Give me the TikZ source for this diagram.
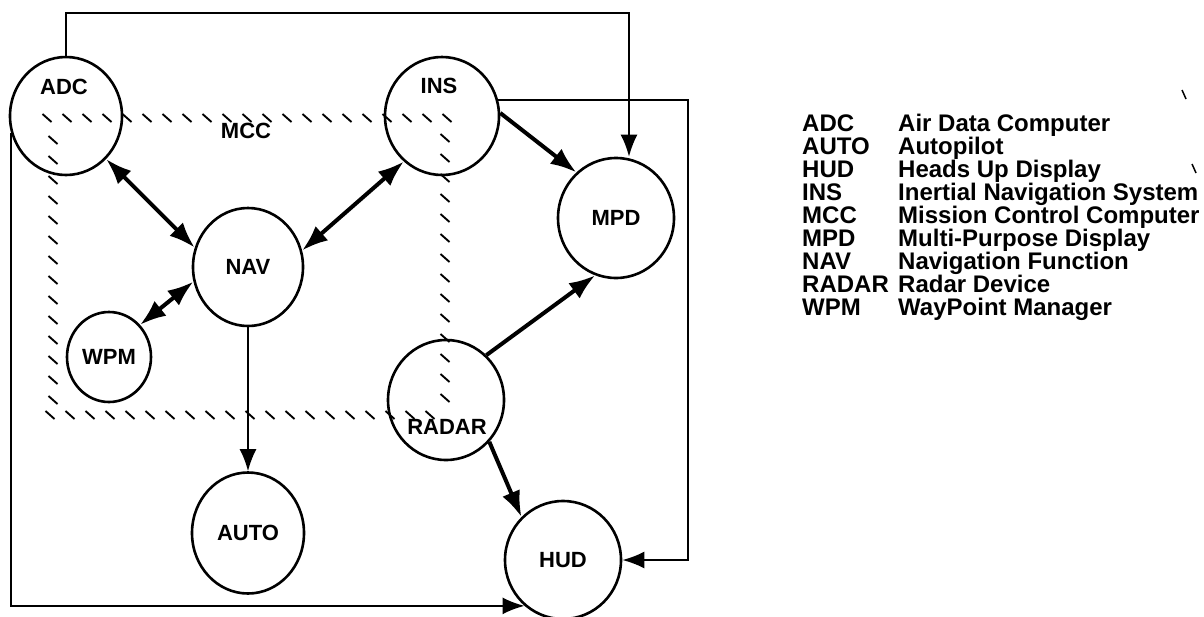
\documentclass[tikz,border=0pt]{standalone}
\usepackage{fontspec}
\setmainfont{Liberation Sans}
\usetikzlibrary{shapes.geometric,arrows.meta}
\newcommand\dglbl{\fontsize{22}{26}\selectfont\bfseries}
\newcommand\dgleg{\fontsize{24}{28}\selectfont\bfseries}
\begin{document}
\begin{tikzpicture}[x=1pt,y=-1pt,
  proc/.style={draw, ellipse, line width=2.6pt, inner sep=0pt, font=\dglbl},
  lab/.style={inner sep=0pt, font=\dglbl},
  leg/.style={inner sep=0pt, font=\dgleg, anchor=base west},
  tk/.style={line width=1.9pt},
  thin/.style={line width=1.9pt, -{Latex[length=22pt,width=17pt]}},
  thick/.style={line width=4pt, -{Latex[length=26pt,width=19pt]}},
  dbl/.style={line width=4pt, {Latex[length=26pt,width=19pt]}-{Latex[length=26pt,width=19pt]}}
]
\useasboundingbox (0,0) rectangle (1204,616);

% MCC hatched boundary
\foreach \x in {47,67,...,447} \draw[tk] (\x,118) ++(-4.5,-4) -- ++(9,8);
\foreach \y in {140,160,...,400} \draw[tk] (53,\y) ++(-4.5,-4) -- ++(9,8);
\foreach \y in {138,158,...,398} \draw[tk] (445,\y) ++(-4.5,-4) -- ++(9,8);
\foreach \x in {50,70,...,430} \draw[tk] (\x,415) ++(-4.5,-4) -- ++(9,8);
\node[lab] (mcc) at (246,131) {MCC};

% nodes
\node[proc, minimum width=112pt, minimum height=118pt] (adc) at (66,116) {};
\node[lab] (adcl) at (64,87) {ADC};
\node[proc, minimum width=114pt, minimum height=118pt] (ins) at (442,116) {};
\node[lab] (insl) at (439,86) {INS};
\node[proc, minimum width=110pt, minimum height=118pt] (nav) at (248,267) {NAV};
\node[proc, minimum width=116pt, minimum height=120pt] (mpd) at (616,218) {MPD};
\node[proc, minimum width=84pt, minimum height=90pt] (wpm) at (109,357) {WPM};
\node[proc, minimum width=116pt, minimum height=120pt] (radar) at (446,400) {};
\node[lab] (radarl) at (447,427) {RADAR};
\node[proc, minimum width=112pt, minimum height=121pt] (auto) at (248,533) {AUTO};
\node[proc, minimum width=116pt, minimum height=118pt] (hud) at (563,560) {HUD};

% connectors
\draw[dbl] (adc.-47) -- (nav.160);
\draw[dbl] (ins.-130) -- (nav.17);
\draw[dbl] (wpm.46) -- (nav.195);
\draw[thick] (ins.3) -- (mpd.131);
\draw[thick] (radar.48) -- (mpd.-110);
\draw[thick] (radar.-44) -- (hud.134);
\draw[thin] (nav.south) -- (auto.north);

\coordinate (tr) at (629,13);
\draw[thin] (adc.north) |- (tr) -- (tr |- mpd.north);
\coordinate (rc) at (688,100);
\draw[thin] (ins.16) -- (ins.16 -| rc) |- (hud.east);
\draw[thin] (adc.197) |- (hud.-130);

% legend
\foreach \a/\b [count=\i] in {ADC/Air Data Computer, AUTO/Autopilot, HUD/Heads Up Display,
  INS/Inertial Navigation System, MCC/Mission Control Computer, MPD/Multi-Purpose Display,
  NAV/Navigation Function, RADAR/Radar Device, WPM/WayPoint Manager} {
  \node[leg] (ka\i) at (802,{131+23*(\i-1)}) {\a};
  \node[leg] (kb\i) at (898,{131+23*(\i-1)}) {\b};
}

% stray marks
\draw[line width=1.5pt] (1182,90) -- (1186,99);
\draw[line width=1.5pt] (1192,164) -- (1196,173);
\end{tikzpicture}
\end{document}
